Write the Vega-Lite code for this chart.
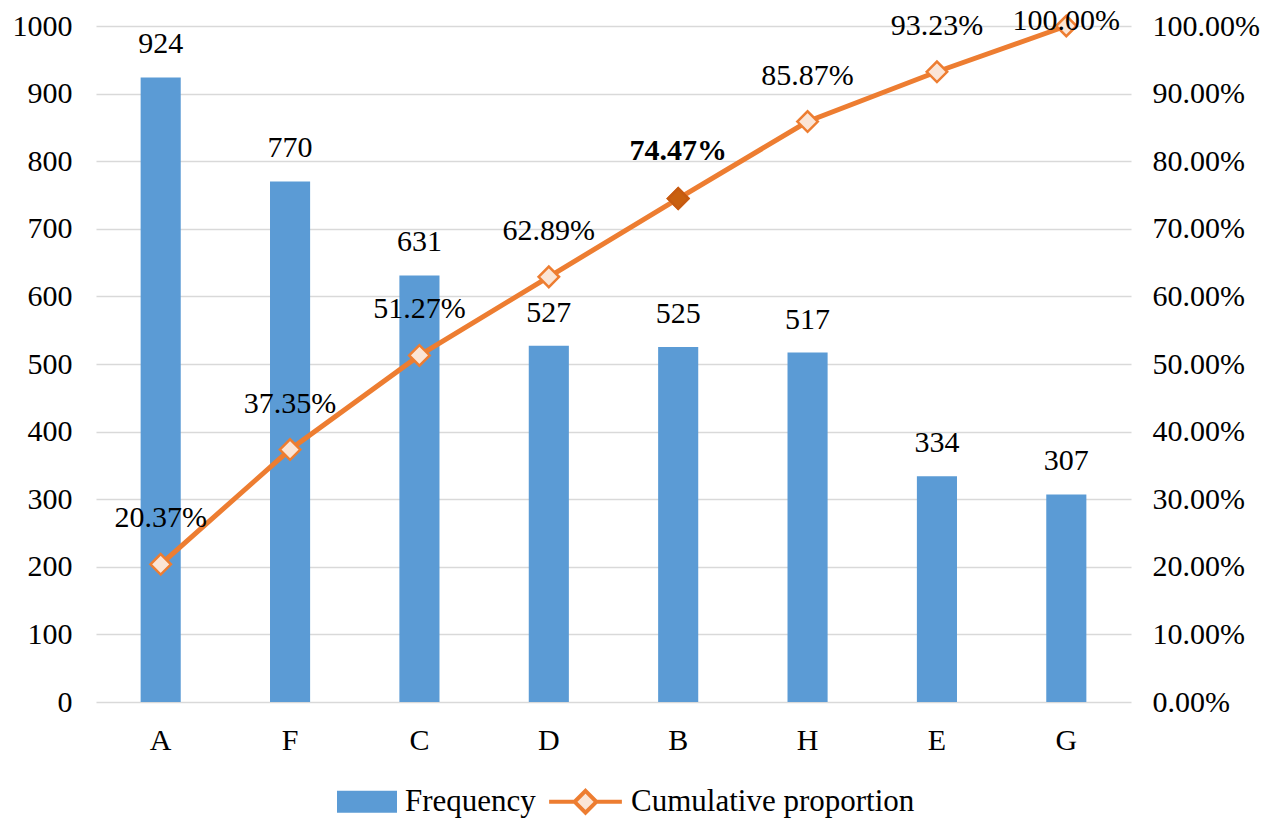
{
  "$schema": "https://vega.github.io/schema/vega-lite/v6.json",
  "width": 1035,
  "height": 676,
  "autosize": {"type": "none"},
  "padding": {"left": 96, "top": 26, "right": 155, "bottom": 118},
  "background": "white",
  "config": {
    "font": "Liberation Serif",
    "view": {"stroke": null},
    "axis": {
      "labelFont": "Liberation Serif",
      "labelFontSize": 30,
      "labelColor": "#000000",
      "domain": false,
      "ticks": false,
      "title": null
    },
    "text": {"font": "Liberation Serif", "fontSize": 30, "color": "#000000"}
  },
  "data": {
    "values": [
      {"cat": "A", "freq": 924, "cum": 0.2037},
      {"cat": "F", "freq": 770, "cum": 0.3735},
      {"cat": "C", "freq": 631, "cum": 0.5127},
      {"cat": "D", "freq": 527, "cum": 0.6289},
      {"cat": "B", "freq": 525, "cum": 0.7447},
      {"cat": "H", "freq": 517, "cum": 0.8587},
      {"cat": "E", "freq": 334, "cum": 0.9323},
      {"cat": "G", "freq": 307, "cum": 1.0}
    ]
  },
  "encoding": {
    "x": {
      "field": "cat",
      "type": "nominal",
      "sort": null,
      "scale": {"paddingInner": 0.69, "paddingOuter": 0.345},
      "axis": {"labelAngle": 0, "labelPadding": 23, "grid": false}
    }
  },
  "layer": [
    {
      "encoding": {
        "y": {
          "field": "freq",
          "type": "quantitative",
          "scale": {"domain": [0, 1000]},
          "axis": {
            "orient": "left",
            "values": [0, 100, 200, 300, 400, 500, 600, 700, 800, 900, 1000],
            "format": "d",
            "grid": true,
            "gridColor": "#D9D9D9",
            "gridWidth": 1.5,
            "labelPadding": 24
          }
        }
      },
      "layer": [
        {
          "mark": {"type": "bar"},
          "encoding": {
            "color": {
              "datum": "Frequency",
              "type": "nominal",
              "scale": {
                "domain": ["Frequency", "Cumulative proportion"],
                "range": ["#5B9BD5", "#FBE5D6"]
              },
              "legend": {
                "orient": "none",
                "legendX": 224,
                "legendY": 736,
                "direction": "horizontal",
                "title": null,
                "padding": 0,
                "symbolSize": 5625,
                "labelFont": "Liberation Serif",
                "labelFontSize": 31,
                "labelColor": "#000000",
                "labelOffset": 6,
                "labelLimit": 400,
                "columnPadding": 5,
                "encode": {
                  "symbols": {
                    "update": {
                      "shape": {"signal": "datum.value === 'Frequency' ? 'M-0.6,-0.293H1V0.293H-0.6Z' : 'M-0.97,0H-0.3M0.3,0H0.97M0,-0.29L0.29,0L0,0.29L-0.29,0Z'"},
                      "fill": {"signal": "datum.value === 'Frequency' ? '#5B9BD5' : '#FBE5D6'"},
                      "stroke": {"signal": "datum.value === 'Frequency' ? 'transparent' : '#ED7D31'"},
                      "strokeWidth": {"value": 4},
                      "opacity": {"value": 1},
                      "fillOpacity": {"value": 1},
                      "strokeOpacity": {"value": 1}
                    }
                  }
                }
              }
            }
          }
        },
        {
          "mark": {"type": "text", "baseline": "alphabetic", "dy": -24},
          "encoding": {"text": {"field": "freq", "type": "quantitative"}}
        }
      ]
    },
    {
      "encoding": {
        "y": {
          "field": "cum",
          "type": "quantitative",
          "scale": {"domain": [0, 1]},
          "axis": {
            "orient": "right",
            "values": [0, 0.1, 0.2, 0.3, 0.4, 0.5, 0.6, 0.7, 0.8, 0.9, 1.0],
            "format": ".2%",
            "grid": false,
            "labelPadding": 21
          }
        }
      },
      "layer": [
        {
          "mark": {"type": "line", "strokeWidth": 5, "stroke": "#ED7D31"}
        },
        {
          "mark": {"type": "point", "shape": "diamond", "filled": true, "size": 420, "stroke": "#ED7D31", "strokeWidth": 2.5, "opacity": 1},
          "encoding": {"color": {"datum": "Cumulative proportion", "type": "nominal"}}
        },
        {
          "transform": [{"filter": "datum.cat === 'B'"}],
          "mark": {"type": "point", "shape": "diamond", "filled": true, "size": 420, "fill": "#C9600F", "stroke": "#C55A11", "strokeWidth": 2.5, "opacity": 1}
        },
        {
          "transform": [{"filter": "datum.cum < 1 && datum.cat !== 'B'"}],
          "mark": {"type": "text", "baseline": "alphabetic", "dy": -37},
          "encoding": {"text": {"field": "cum", "type": "quantitative", "format": ".2%"}}
        },
        {
          "transform": [{"filter": "datum.cat === 'B'"}],
          "mark": {"type": "text", "baseline": "alphabetic", "dy": -39, "fontWeight": "bold"},
          "encoding": {"text": {"field": "cum", "type": "quantitative", "format": ".2%"}}
        },
        {
          "transform": [{"filter": "datum.cum >= 1"}],
          "mark": {"type": "text", "baseline": "alphabetic", "dy": 4},
          "encoding": {"text": {"field": "cum", "type": "quantitative", "format": ".2%"}}
        }
      ]
    }
  ],
  "resolve": {"scale": {"y": "independent"}}
}
